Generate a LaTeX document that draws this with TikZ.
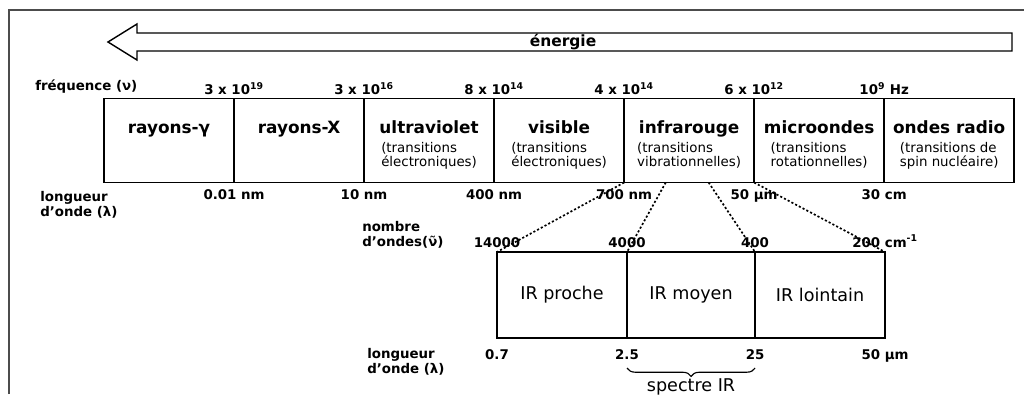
\documentclass[tikz,border=0pt]{standalone}
\usepackage{fontspec}
\setmainfont{DejaVu Sans}
\usetikzlibrary{positioning,calc,decorations.pathreplacing}

\begin{document}
\begin{tikzpicture}[x=0.025cm, y=-0.025cm,
    cell/.style={rectangle, draw=black, line width=1.3pt, minimum width=3.25cm, minimum height=2.1cm, inner sep=0pt, outer sep=0pt},
    sub/.style={rectangle, draw=black, line width=1.3pt, minimum height=2.15cm, inner sep=0pt, outer sep=0pt, font=\fontsize{12.5}{12.5}\selectfont},
    band/.style={anchor=base, font=\fontsize{12}{12}\selectfont\bfseries},
    note/.style={anchor=north, align=left, inner sep=0pt, font=\fontsize{9.5}{9.5}\selectfont},
    dim/.style={inner sep=1pt, font=\fontsize{9.5}{10.5}\selectfont\bfseries},
    side/.style={anchor=west, align=left, inner sep=0pt, font=\fontsize{9.5}{10.5}\selectfont\bfseries},
    link/.style={line width=1.2pt, dash pattern=on 1.5pt off 1.5pt}
]
    \useasboundingbox (0,0) rectangle (1024,394);
    \draw[gray!60!black, line width=1pt] (9,394) -- (9,10) -- (1024,10);

    % Energy arrow
    \draw[line width=1pt, line join=miter]
        (1012,33) -- (137,33) -- (137,24) -- (108,42) -- (137,60) -- (137,51) -- (1012,51) -- cycle;
    \node[font=\fontsize{11}{11}\selectfont\bfseries] (nrj) at (563,42) {énergie};

    % Spectrum bands
    \node[cell] (gam) at (169,140.5) {};
    \node[cell, right=0cm of gam] (xr) {};
    \node[cell, right=0cm of xr] (uv) {};
    \node[cell, right=0cm of uv] (vis) {};
    \node[cell, right=0cm of vis] (ir) {};
    \node[cell, right=0cm of ir] (mw) {};
    \node[cell, right=0cm of mw] (rad) {};

    \node[band] (gamt) at ($(gam.north)+(0,35)$) {rayons-γ};
    \node[band] (xrt) at ($(xr.north)+(0,35)$) {rayons-X};
    \node[band] (uvt) at ($(uv.north)+(0,35)$) {ultraviolet};
    \node[band] (vist) at ($(vis.north)+(0,35)$) {visible};
    \node[band] (irt) at ($(ir.north)+(0,35)$) {infrarouge};
    \node[band] (mwt) at ($(mw.north)+(0,35)$) {microondes};
    \node[band] (radt) at ($(rad.north)+(0,35)$) {ondes radio};

    \node[note] (uvn) at ($(uv.north)+(0,44)$) {(transitions\\électroniques)};
    \node[note] (visn) at ($(vis.north)+(0,44)$) {(transitions\\électroniques)};
    \node[note] (irn) at ($(ir.north)+(0,44)$) {(transitions\\vibrationnelles)};
    \node[note] (mwn) at ($(mw.north)+(0,44)$) {(transitions\\rotationnelles)};
    \node[note] (radn) at ($(rad.north)+(0,44)$) {(transitions de\\spin nucléaire)};

    % Frequencies
    \node[side] (freq) at (35,87) {fréquence (ν)};
    \node[dim, above=1.5pt of gam.north east] (f1) {3 x 10\textsuperscript{19}};
    \node[dim, above=1.5pt of xr.north east] (f2) {3 x 10\textsuperscript{16}};
    \node[dim, above=1.5pt of uv.north east] (f3) {8 x 10\textsuperscript{14}};
    \node[dim, above=1.5pt of vis.north east] (f4) {4 x 10\textsuperscript{14}};
    \node[dim, above=1.5pt of ir.north east] (f5) {6 x 10\textsuperscript{12}};
    \node[dim, above=1.5pt of mw.north east] (f6) {10\textsuperscript{9} Hz};

    % Wavelengths
    \node[side] (lam) at (40,204.5) {longueur\\d'onde (λ)};
    \node[dim, below=4pt of gam.south east] (l1) {0.01 nm};
    \node[dim, below=4pt of xr.south east] (l2) {10 nm};
    \node[dim, below=4pt of uv.south east] (l3) {400 nm};
    \node[dim, below=4pt of vis.south east] (l4) {700 nm};
    \node[dim, below=4pt of ir.south east] (l5) {50 µm};
    \node[dim, below=4pt of mw.south east] (l6) {30 cm};

    % Infrared detail
    \node[sub, minimum width=3.25cm] (prc) at (562,295) {IR proche};
    \node[sub, minimum width=3.2cm, right=0cm of prc] (moy) {IR moyen};
    \node[sub, minimum width=3.25cm, right=0cm of moy] (loi) {IR lointain};

    \draw[link] (ir.south west) -- (prc.north west);
    \draw[link] ($(ir.south west)!0.32!(ir.south east)$) -- (prc.north east);
    \draw[link] ($(ir.south west)!0.65!(ir.south east)$) -- (moy.north east);
    \draw[link] (ir.south east) -- (loi.north east);

    \node[side] (nb) at (362,234.5) {nombre\\d'ondes(ν̃)};
    \node[dim, above=2pt of prc.north west] (k1) {14000};
    \node[dim, above=2pt of prc.north east] (k2) {4000};
    \node[dim, above=2pt of moy.north east] (k3) {400};
    \node[dim, above=2pt of loi.north east] (k4) {200 cm\textsuperscript{-1}};

    \node[side] (lam2) at (367,361.5) {longueur\\d'onde (λ)};
    \node[dim, below=7pt of prc.south west] (w1) {0.7};
    \node[dim, below=7pt of prc.south east] (w2) {2.5};
    \node[dim, below=7pt of moy.south east] (w3) {25};
    \node[dim, below=7pt of loi.south east] (w4) {50 µm};

    \draw[decorate, decoration={brace, mirror, amplitude=6pt}, line width=0.8pt]
        ($(moy.south west)+(0,30)$) -- ($(moy.south east)+(0,30)$)
        node[midway, below=4pt, font=\fontsize{12.5}{12.5}\selectfont] (spec) {spectre IR};
\end{tikzpicture}
\end{document}
